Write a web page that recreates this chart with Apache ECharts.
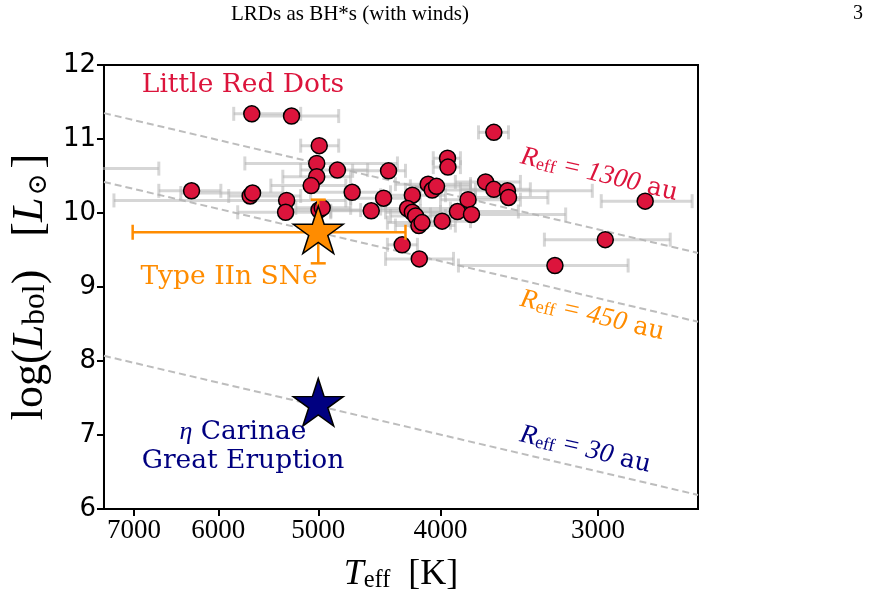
<!DOCTYPE html>
<html>
<head>
<meta charset="utf-8">
<script src="https://cdn.jsdelivr.net/npm/echarts@6.0.0/dist/echarts.min.js"></script>
<style>
html, body { margin: 0; padding: 0; background: #fff; }
#chart { width: 869px; height: 598px; }
</style>
</head>
<body>
<div id="chart"></div>
<script>
// Little Red Dots: Teff [K], log Lbol, Teff error range (hot end, cool end)
var lrdTeff = [5645, 5250, 6301, 5662, 5637, 5297, 5307, 4991, 5014, 5014,
               5065, 4828, 4700, 4398, 4438, 4539, 4993, 4964, 4211, 4248,
               4211, 4186, 4161, 4137, 4091, 4061, 4029, 3949, 3946, 3988,
               3878, 3804, 3780, 3684, 3629, 3540, 3533, 3629, 4290, 4158,
               3246, 2961, 2753, 7900];
var lrdLogL = [11.34, 11.31, 10.30, 10.23, 10.27, 10.17, 10.01, 10.91, 10.67, 10.49,
               10.37, 10.58, 10.28, 10.57, 10.20, 10.03, 10.04, 10.07, 10.24, 10.06,
               10.01, 9.96, 9.83, 9.87, 10.39, 10.31, 10.36, 10.74, 10.62, 9.89,
               10.02, 10.18, 9.98, 10.42, 10.32, 10.30, 10.21, 11.09, 9.57, 9.38,
               9.29, 9.64, 10.16, 10.60];
var lrdTeffHot = [5834, 5635, 6689, 5888, 6426, 7260, 5792, 5163, 5717, 5334,
                  5452, 5163, 5070, 4696, 4713, 4887, 5257, 5209, 4462, 4462,
                  4422, 4382, 4343, 4407, 4343, 4264, 4226, 4053, 4053, 4226,
                  4150, 4000, 4074, 3893, 3857, 3787, 3753, 3732, 4407, 4422,
                  3871, 3309, 2983, 9000];
var lrdTeffCool = [5163, 4817, 5973, 5163, 5334, 4755, 4887, 4817, 4327, 4713,
                   4755, 4569, 4382, 4264, 4150, 4226, 4628, 4713, 3964, 3928,
                   4000, 3964, 3893, 3928, 3787, 3753, 3787, 3857, 3857, 3787,
                   3470, 3457, 3183, 3457, 3395, 3032, 3288, 3533, 4172, 3906,
                   2840, 2630, 2527, 6689];

// Type IIn SNe
var sneTeff = 5000, sneLogL = 9.74;
var sneTeffRange = [7016, 4264];
var sneLogLRange = [9.32, 10.18];

// eta Carinae Great Eruption
var etaTeff = 5000, etaLogL = 7.41;

// constant R_eff lines, end points at the axis edges
var lineTeff = [7393, 2500];
var line1300 = [11.35, 9.46];
var line450 = [10.42, 8.53];
var line30 = [8.07, 6.19];

var xTicks = [7000, 6000, 5000, 4000, 3000];
var xMin = 2500, xMax = 7393;

var CRIMSON = '#DC143C', ORANGE = '#FF8C00', NAVY = '#000080';
var SERIF = "'Liberation Serif', 'DejaVu Serif', serif";
var DSERIF = "'DejaVu Serif', serif";
var STAR = 'path://M0,-10 L2.245,-3.09 L9.511,-3.09 L3.633,1.18 L5.878,8.09 L0,3.82 L-5.878,8.09 L-3.633,1.18 L-9.511,-3.09 L-2.245,-3.09 Z';

function lg(v) { return Math.log10(v); }

var barData = [];
var dotData = [];
for (var i = 0; i < lrdTeff.length; i++) {
    barData.push([lg(lrdTeffHot[i]), lg(lrdTeffCool[i]), lrdLogL[i]]);
    dotData.push([lg(lrdTeff[i]), lrdLogL[i]]);
}

function lineData(vals) {
    return [[lg(lineTeff[0]), vals[0]], [lg(lineTeff[1]), vals[1]]];
}

// horizontal error bar with caps
function hBar(params, api) {
    var y = api.value(2);
    var p1 = api.coord([api.value(0), y]);
    var p2 = api.coord([api.value(1), y]);
    var c = 7;
    var st = { stroke: 'rgba(180,180,180,0.55)', lineWidth: 3 };
    return {
        type: 'group',
        children: [
            { type: 'line', shape: { x1: p1[0], y1: p1[1], x2: p2[0], y2: p2[1] }, style: st },
            { type: 'line', shape: { x1: p1[0], y1: p1[1] - c, x2: p1[0], y2: p1[1] + c }, style: st },
            { type: 'line', shape: { x1: p2[0], y1: p2[1] - c, x2: p2[0], y2: p2[1] + c }, style: st }
        ]
    };
}

// cross error bar for the SNe point
function crossBar(params, api) {
    var x = api.value(0), y = api.value(1);
    var h1 = api.coord([api.value(2), y]);
    var h2 = api.coord([api.value(3), y]);
    var v1 = api.coord([x, api.value(4)]);
    var v2 = api.coord([x, api.value(5)]);
    var c = 7.5;
    var st = { stroke: ORANGE, lineWidth: 2.5 };
    return {
        type: 'group',
        children: [
            { type: 'line', shape: { x1: h1[0], y1: h1[1], x2: h2[0], y2: h2[1] }, style: st },
            { type: 'line', shape: { x1: h1[0], y1: h1[1] - c, x2: h1[0], y2: h1[1] + c }, style: st },
            { type: 'line', shape: { x1: h2[0], y1: h2[1] - c, x2: h2[0], y2: h2[1] + c }, style: st },
            { type: 'line', shape: { x1: v1[0], y1: v1[1], x2: v2[0], y2: v2[1] }, style: st },
            { type: 'line', shape: { x1: v1[0] - c, y1: v1[1], x2: v1[0] + c, y2: v1[1] }, style: st },
            { type: 'line', shape: { x1: v2[0] - c, y1: v2[1], x2: v2[0] + c, y2: v2[1] }, style: st }
        ]
    };
}

function dashLine(vals) {
    return {
        type: 'line', data: lineData(vals), symbol: 'none', silent: true, z: 1,
        lineStyle: { color: '#bdbdbd', width: 2, type: [7, 4] }
    };
}

function rReff(num, color) {
    return {
        text: '{i|R}{s|eff}{i| = ' + num + '}{r| au}',
        fill: color,
        align: 'center',
        verticalAlign: 'middle',
        rich: {
            i: { fontFamily: SERIF, fontStyle: 'italic', fontSize: 27, fill: color, lineHeight: 32, verticalAlign: 'bottom' },
            s: { fontFamily: SERIF, fontSize: 18, fill: color, lineHeight: 19, verticalAlign: 'bottom' },
            r: { fontFamily: DSERIF, fontSize: 25, fill: color, lineHeight: 32, verticalAlign: 'bottom' }
        }
    };
}

function axisRich(size, sub, sun) {
    return {
        r: { fontFamily: SERIF, fontSize: size, color: '#000', lineHeight: size * 1.2, verticalAlign: 'bottom' },
        i: { fontFamily: SERIF, fontSize: size, fontStyle: 'italic', color: '#000', lineHeight: size * 1.2, verticalAlign: 'bottom' },
        s: { fontFamily: SERIF, fontSize: size * sub, color: '#000', lineHeight: size * 0.62, verticalAlign: 'bottom' },
        o: { fontFamily: DSERIF, fontSize: size * sun, color: '#000', lineHeight: size * 0.56, verticalAlign: 'bottom', padding: [0, 5, 0, 2] }
    };
}

var chart = echarts.init(document.getElementById('chart'), null, { renderer: 'canvas' });

var option = {
    animation: false,
    backgroundColor: '#fff',
    grid: { left: 103, right: 171, top: 65, bottom: 89, show: true, borderColor: '#000', borderWidth: 2, backgroundColor: 'transparent' },
    xAxis: {
        type: 'value',
        min: lg(xMin),
        max: lg(xMax),
        inverse: true,
        splitLine: { show: false },
        axisLine: { show: true, lineStyle: { color: '#000', width: 2 } },
        axisTick: { show: true, length: 7, lineStyle: { color: '#000', width: 2 }, customValues: xTicks.map(lg) },
        axisLabel: {
            customValues: xTicks.map(lg),
            formatter: function (v) { return String(Math.round(Math.pow(10, v) / 100) * 100); },
            fontFamily: SERIF, fontSize: 27, color: '#000', margin: 8
        },
        name: '{i|T}{s|eff}{r|  [K]}',
        nameLocation: 'middle',
        nameGap: 40,
        nameTextStyle: { rich: axisRich(36, 0.68, 0.55) }
    },
    yAxis: {
        type: 'value',
        min: 6,
        max: 12,
        interval: 1,
        splitLine: { show: false },
        axisLine: { show: true, lineStyle: { color: '#000', width: 2 } },
        axisTick: { show: true, length: 7, lineStyle: { color: '#000', width: 2 } },
        axisLabel: { fontFamily: 'DejaVu Sans', fontSize: 26, color: '#000', margin: 8 },
        name: '{r|log(}{i|L}{s|bol}{r|)   [}{i|L}{o|⊙}{r|]}',
        nameLocation: 'middle',
        nameRotate: 90,
        nameGap: 47,
        nameTextStyle: { rich: axisRich(44, 0.72, 0.6) }
    },
    series: [
        dashLine(line1300),
        dashLine(line450),
        dashLine(line30),
        {
            type: 'custom', renderItem: hBar, data: barData, clip: true, z: 2, silent: true,
            encode: { x: [0, 1], y: 2 }
        },
        {
            type: 'scatter', data: dotData, symbol: 'circle', symbolSize: 16, z: 3, clip: true,
            itemStyle: { color: CRIMSON, borderColor: '#000', borderWidth: 1.5, opacity: 1 }
        },
        {
            type: 'custom', renderItem: crossBar, z: 4, silent: true,
            data: [[lg(sneTeff), sneLogL, lg(sneTeffRange[0]), lg(sneTeffRange[1]), sneLogLRange[0], sneLogLRange[1]]],
            encode: { x: [0, 2, 3], y: [1, 4, 5] }
        },
        {
            type: 'scatter', symbol: STAR, symbolSize: [50, 47.6], symbolOffset: [0, -2.4], z: 5,
            data: [[lg(sneTeff), sneLogL]],
            itemStyle: { color: ORANGE, borderColor: '#000', borderWidth: 1.5, opacity: 1 }
        },
        {
            type: 'scatter', symbol: STAR, symbolSize: [50, 47.6], symbolOffset: [0, -2.4], z: 5,
            data: [[lg(etaTeff), etaLogL]],
            itemStyle: { color: NAVY, borderColor: '#000', borderWidth: 1.5, opacity: 1 }
        }
    ],
    graphic: [
        { type: 'text', x: 350, y: 14, style: { text: 'LRDs as BH*s (with winds)', font: '21px ' + SERIF, fill: '#000', align: 'center', verticalAlign: 'middle' } },
        { type: 'text', x: 858, y: 14, style: { text: '3', font: '20px ' + SERIF, fill: '#000', align: 'center', verticalAlign: 'middle' } },
        { type: 'text', x: 243, y: 85, z: 10, style: { text: 'Little Red Dots', font: '26.5px ' + DSERIF, fill: CRIMSON, align: 'center', verticalAlign: 'middle' } },
        { type: 'text', x: 229, y: 277, z: 10, style: { text: 'Type IIn SNe', font: '26.5px ' + DSERIF, fill: ORANGE, align: 'center', verticalAlign: 'middle' } },
        { type: 'text', x: 243, y: 447, z: 10, style: {
            text: '{e|η}{r| Carinae}\n{r|Great Eruption}', align: 'center', verticalAlign: 'middle', fill: NAVY,
            rich: {
                e: { fontFamily: SERIF, fontStyle: 'italic', fontSize: 26, fill: NAVY, lineHeight: 29 },
                r: { fontFamily: DSERIF, fontSize: 26.5, fill: NAVY, lineHeight: 29 }
            }
        } },
        { type: 'text', x: 600, y: 172, rotation: -0.23, z: 10, style: rReff('1300', CRIMSON) },
        { type: 'text', x: 593, y: 313, rotation: -0.23, z: 10, style: rReff('450', ORANGE) },
        { type: 'text', x: 586, y: 447, rotation: -0.23, z: 10, style: rReff('30', NAVY) }
    ]
};

chart.setOption(option);
</script>
</body>
</html>
